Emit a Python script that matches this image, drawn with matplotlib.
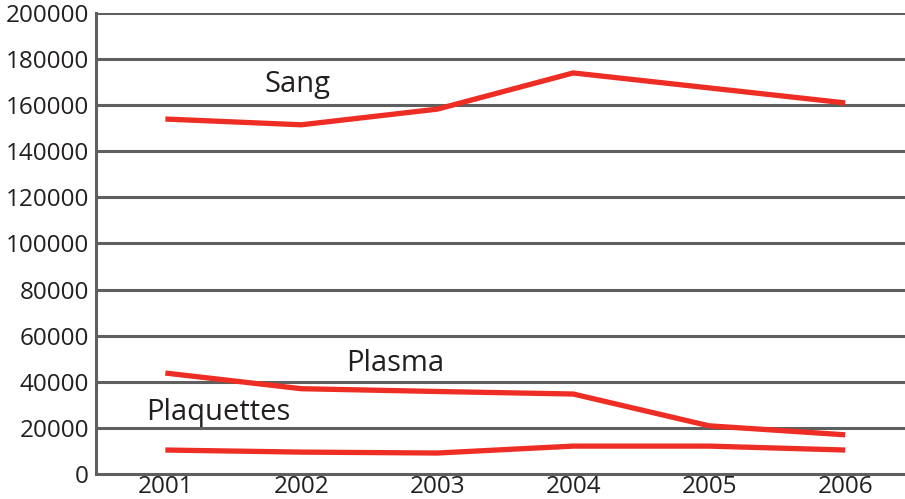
import matplotlib.pyplot as plt

years = [2001, 2002, 2003, 2004, 2005, 2006]
sang = [154000, 151500, 158300, 174000, 167500, 161000]
plasma = [43800, 37000, 35800, 34700, 20900, 17000]
plaquettes = [10400, 9500, 9100, 12100, 12100, 10400]
yticks = list(range(0, 200001, 20000))

plt.rcParams['font.family'] = ['Open Sans', 'DejaVu Sans']

fig = plt.figure(figsize=(9.05, 4.99), dpi=100)
ax = fig.add_axes([96 / 905, 25 / 499, 809 / 905, 461 / 499])

grey = '#5f5f5f'
red = '#ee2d24'
ink = '#231f20'

for v in yticks[1:]:
    ax.axhline(v, color=grey, lw=2.2, zorder=1)

ax.plot(years, sang, color=red, lw=3.8, zorder=3, solid_capstyle='butt')
ax.plot(years, plasma, color=red, lw=3.8, zorder=3, solid_capstyle='butt')
ax.plot(years, plaquettes, color=red, lw=3.8, zorder=3, solid_capstyle='butt')

# series labels, placed by their baseline
ax.text(2001.97, 165700, 'Sang', fontsize=21, ha='center', va='baseline', color=ink)
ax.text(2002.69, 44700, 'Plasma', fontsize=21, ha='center', va='baseline', color=ink)
ax.text(2001.39, 23400, 'Plaquettes', fontsize=21, ha='center', va='baseline', color=ink)

ax.set_xlim(2000.49, 2006.44)
ax.set_ylim(0, 200000)
ax.set_yticks(yticks)
ax.set_yticklabels([str(v) for v in yticks])
ax.set_xticks(years)
ax.tick_params(length=0, labelsize=17.5, colors=ink)
ax.tick_params(axis='y', pad=5)
ax.tick_params(axis='x', pad=1)

for s in ['top', 'right']:
    ax.spines[s].set_visible(False)
for s in ['left', 'bottom']:
    ax.spines[s].set_color(grey)
    ax.spines[s].set_linewidth(2.2)

fig.savefig('out.png', dpi=100)
